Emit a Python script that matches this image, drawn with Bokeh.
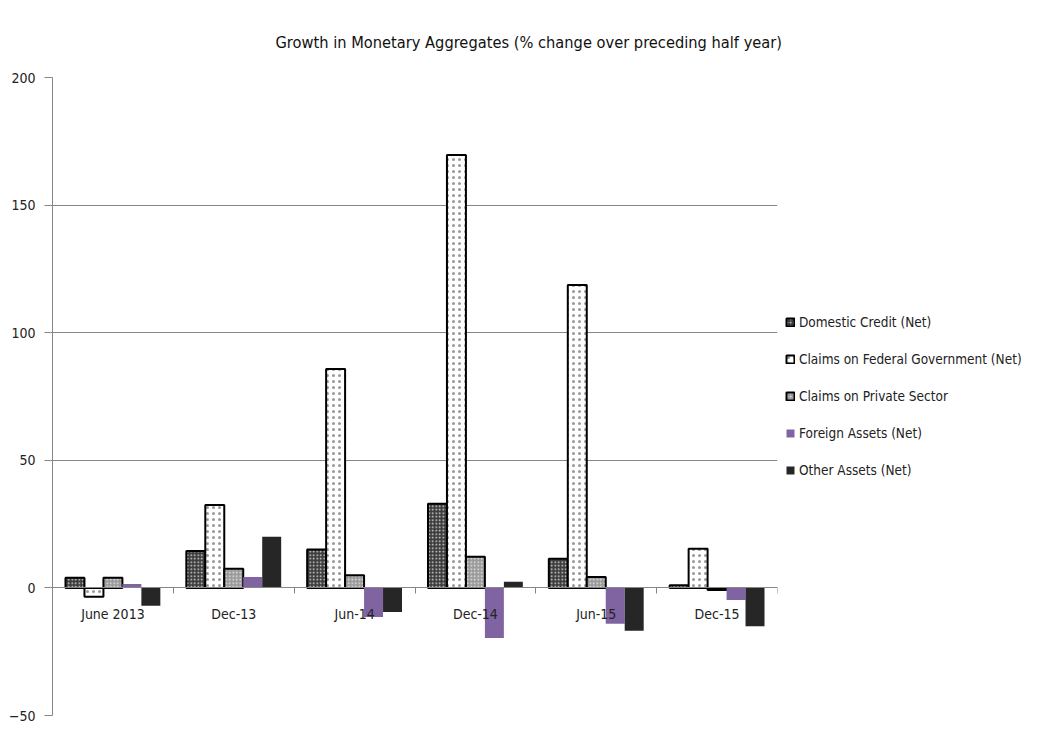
from bokeh.plotting import figure
from bokeh.models import (Range1d, FixedTicker, LinearAxis, Legend, LegendItem,
                          ColumnDataSource)
from bokeh.embed import file_html
from bokeh.resources import INLINE

categories = ["June 2013", "Dec-13", "Jun-14", "Dec-14", "Jun-15", "Dec-15"]
domestic_credit = [4.0, 14.5, 15.0, 33.0, 11.4, 1.0]
claims_fed_gov = [-3.5, 32.5, 85.8, 169.6, 118.7, 15.3]
claims_private = [4.0, 7.5, 5.0, 12.2, 4.3, -0.8]
foreign_assets = [1.5, 4.3, -11.4, -19.6, -14.0, -4.7]
other_assets = [-7.0, 20.0, -9.4, 2.4, -16.8, -15.0]
series_names = ["Domestic Credit (Net)", "Claims on Federal Government (Net)",
                "Claims on Private Sector", "Foreign Assets (Net)", "Other Assets (Net)"]
y_ticks = [-50, 0, 50, 100, 150, 200]

FONT = "DejaVu Sans Condensed"

p = figure(frame_width=725, frame_height=638, output_backend="svg", toolbar_location=None,
           x_range=Range1d(0, len(categories)), y_range=Range1d(-50, 200),
           min_border_left=52, min_border_top=77, min_border_bottom=16, min_border_right=0,
           x_axis_type=None)
p.outline_line_color = None
p.background_fill_color = "white"
p.border_fill_color = "white"

p.title.text = "Growth in Monetary Aggregates (% change over preceding half year)"
p.title.align = "left"
p.title.text_font = FONT
p.title.text_font_size = "16.3px"
p.title.text_font_style = "normal"
p.title.text_color = "#111111"
p.title.offset = 223
p.title.standoff = 51

# y axis
p.yaxis.ticker = FixedTicker(ticks=y_ticks)
p.yaxis.axis_line_color = "#868686"
p.yaxis.major_tick_line_color = "#868686"
p.yaxis.major_tick_out = 8
p.yaxis.major_tick_in = 0
p.yaxis.minor_tick_line_color = None
p.yaxis.major_label_text_font = FONT
p.yaxis.major_label_text_font_size = "14px"
p.yaxis.major_label_text_color = "#222222"
p.yaxis.major_label_standoff = 9
p.ygrid.ticker = FixedTicker(ticks=[t for t in y_ticks if t != 0])
p.ygrid.grid_line_color = "#868686"
p.xgrid.grid_line_color = None

# x axes at zero
n = len(categories)
tick_axis = LinearAxis(ticker=FixedTicker(ticks=list(range(1, n + 1))),
                       fixed_location=0)
tick_axis.axis_line_color = "#868686"
tick_axis.major_tick_line_color = "#868686"
tick_axis.major_tick_out = 6
tick_axis.major_tick_in = 0
tick_axis.minor_tick_line_color = None
tick_axis.major_label_text_font_size = "0px"
tick_axis.major_label_text_color = None
p.add_layout(tick_axis, "below")

centers = [i + 0.5 for i in range(n)]
label_axis = LinearAxis(ticker=FixedTicker(ticks=centers), fixed_location=0,
                        major_label_overrides={c: lab for c, lab in zip(centers, categories)})
label_axis.axis_line_color = None
label_axis.major_tick_line_color = None
label_axis.minor_tick_line_color = None
label_axis.major_label_text_font = FONT
label_axis.major_label_text_font_size = "14px"
label_axis.major_label_text_color = "#222222"
label_axis.major_label_standoff = 12
p.add_layout(label_axis, "below")

bw = 0.157
offsets = [-2 * bw, -bw, 0, bw, 2 * bw]
all_series = [domestic_credit, claims_fed_gov, claims_private, foreign_assets, other_assets]
styles = [
    dict(fill_color="#3c3c3c", line_color="black", line_width=2,
         hatch_pattern="dot", hatch_color="#dddddd", hatch_scale=3.5, hatch_weight=1),
    dict(fill_color="white", line_color="black", line_width=2,
         hatch_pattern="dot", hatch_color="#999999", hatch_scale=6, hatch_weight=1),
    dict(fill_color="#9a9a9a", line_color="black", line_width=2,
         hatch_pattern="dot", hatch_color="#e8e8e8", hatch_scale=3.5, hatch_weight=1),
    dict(fill_color="#8064a2", line_color=None),
    dict(fill_color="#262626", line_color=None),
]

items = []
for vals, off, st, name in zip(all_series, offsets, styles, series_names):
    src = ColumnDataSource(dict(x=[c + off for c in centers], top=vals))
    r = p.vbar(x="x", top="top", bottom=0, width=bw, source=src, **st)
    items.append(LegendItem(label=name, renderers=[r]))

legend = Legend(items=items, location="center_left")
legend.label_text_font = FONT
legend.label_text_font_size = "13.5px"
legend.label_text_color = "#222222"
legend.glyph_width = 10
legend.glyph_height = 10
legend.label_standoff = 4
legend.label_height = 20
legend.spacing = 17
legend.margin = 8
legend.padding = 6
legend.border_line_color = None
legend.background_fill_alpha = 0
p.add_layout(legend, "right")

open("out.html", "w").write(file_html(p, INLINE))
